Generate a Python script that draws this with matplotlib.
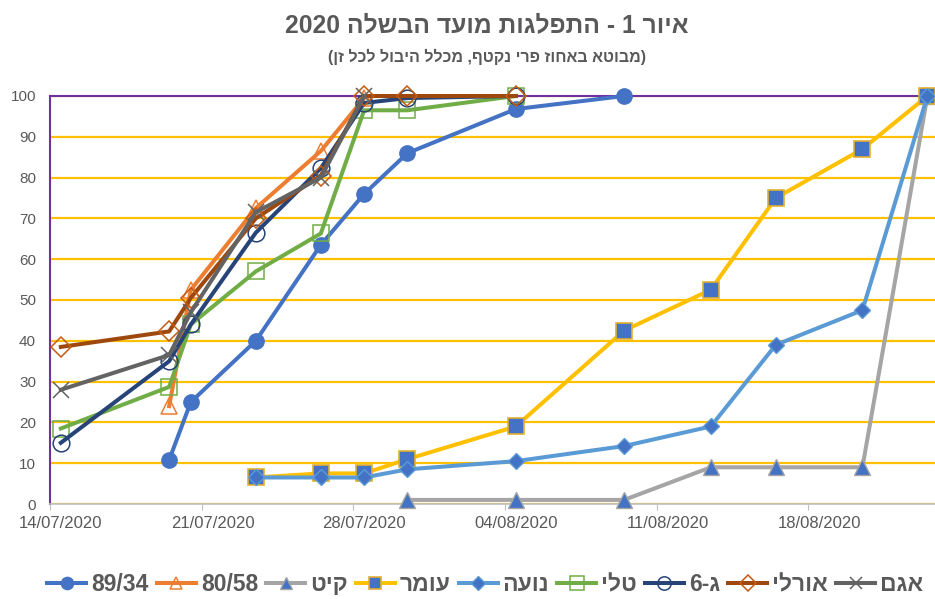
import re
import datetime as dt
import matplotlib
matplotlib.use('Agg')
import matplotlib.pyplot as plt
import matplotlib.dates as mdates

plt.rcParams['font.family'] = ['Liberation Sans', 'DejaVu Sans']


def heb(s):
    # matplotlib draws glyphs left to right with no bidi, so put hebrew in visual order
    if not re.search(r'[\u0590-\u05FF]', s):
        return s
    r = s[::-1]
    r = re.sub(r'[0-9A-Za-z/.]+', lambda m: m.group(0)[::-1], r)
    return r.translate(str.maketrans('()', ')('))


def d(s):
    day, mon = s.split('/')
    return dt.date(2020, int(mon), int(day))


title = 'איור 1 - התפלגות מועד הבשלה 2020'
subtitle = '(מבוטא באחוז פרי נקטף, מכלל היבול לכל זן)'

# series, in excel order (first drawn at the bottom)
s8934_x = ['19/07', '20/07', '23/07', '26/07', '28/07', '30/07', '04/08', '09/08']
s8934_y = [10.8, 25, 40, 63.5, 76, 86, 96.8, 100]

s8058_x = ['19/07', '20/07', '23/07', '26/07', '28/07']
s8058_y = [24, 52.5, 72.5, 86.5, 99.5]

kit_x = ['30/07', '04/08', '09/08', '13/08', '16/08', '20/08', '23/08']
kit_y = [1, 1, 1, 9, 9, 9, 100]

omer_x = ['23/07', '26/07', '28/07', '30/07', '04/08', '09/08', '13/08', '16/08', '20/08', '23/08']
omer_y = [6.5, 7.5, 7.5, 11, 19, 42.5, 52.5, 75, 87, 100]

noa_x = ['23/07', '26/07', '28/07', '30/07', '04/08', '09/08', '13/08', '16/08', '20/08', '23/08']
noa_y = [6.5, 6.5, 6.5, 8.5, 10.5, 14.2, 19, 39, 47.5, 100]

tali_x = ['14/07', '19/07', '20/07', '23/07', '26/07', '28/07', '30/07', '04/08']
tali_y = [18.5, 28.7, 44, 57, 66.3, 96.5, 96.5, 100]

g6_x = ['14/07', '19/07', '20/07', '23/07', '26/07', '28/07', '30/07', '04/08']
g6_y = [15, 35, 44, 66.5, 82.3, 98.3, 99.5, 100]

orly_x = ['14/07', '19/07', '20/07', '23/07', '26/07', '28/07', '30/07', '04/08']
orly_y = [38.5, 42.3, 50.5, 70, 80.5, 100, 100, 100]

agam_x = ['14/07', '19/07', '20/07', '23/07', '26/07', '28/07']
agam_y = [28, 36.5, 47, 71.5, 80, 100]

names = ['89/34', '80/58', 'קיט', 'עומר', 'נועה', 'טלי', 'ג-6', 'אורלי', 'אגם']
xs = [s8934_x, s8058_x, kit_x, omer_x, noa_x, tali_x, g6_x, orly_x, agam_x]
ys = [s8934_y, s8058_y, kit_y, omer_y, noa_y, tali_y, g6_y, orly_y, agam_y]

tick_dates = ['14/07', '21/07', '28/07', '04/08', '11/08', '18/08']

blue = '#4472C4'
styles = [
    dict(color=blue, marker='o', ms=11, mfc=blue, mec=blue, mew=1),
    dict(color='#ED7D31', marker='^', ms=11, mfc='none', mec='#ED7D31', mew=1.1),
    dict(color='#A5A5A5', marker='^', ms=11, mfc=blue, mec='#A5A5A5', mew=1),
    dict(color='#FFC000', marker='s', ms=11, mfc=blue, mec='#E0B030', mew=1.2),
    dict(color='#5B9BD5', marker='D', ms=8.5, mfc=blue, mec='#5B9BD5', mew=1),
    dict(color='#70AD47', marker='s', ms=12, mfc='none', mec='#70AD47', mew=1.1),
    dict(color='#264478', marker='o', ms=12, mfc='none', mec='#264478', mew=1.1),
    dict(color='#9E480E', marker='D', ms=10, mfc='none', mec='#C55A11', mew=1.1),
    dict(color='#636363', marker='x', ms=11, mfc='none', mec='#636363', mew=1.1),
]

fig = plt.figure(figsize=(9.35, 5.99), dpi=100)
ax = fig.add_axes([50 / 935, 95 / 599, 885 / 935, 408 / 599])

half = 0.5  # excel puts each point (and each date label) in the middle of its day
for i, (name, x, y, st) in enumerate(zip(names, xs, ys, styles)):
    xd = [mdates.date2num(d(v)) + half for v in x]
    ax.plot(xd, y, lw=2.9, label=heb(name), zorder=3 + i, clip_on=False, **st)

x0 = mdates.date2num(d('14/07'))
ax.set_xlim(x0, x0 + 40.85)
ax.set_ylim(0, 100)
ax.set_yticks(range(0, 101, 10))

# tick marks at the day boundary, labels at the day centre
ax.set_xticks([mdates.date2num(d(t)) for t in tick_dates])
ax.set_xticklabels([])
ax.set_xticks([mdates.date2num(d(t)) + half for t in tick_dates], minor=True)
ax.set_xticklabels([d(t).strftime('%d/%m/%Y') for t in tick_dates], minor=True)

ax.grid(axis='y', color='#FFC000', lw=1.6, zorder=1)
ax.tick_params(axis='y', length=0, labelsize=11, labelcolor='#595959', pad=10)
ax.tick_params(axis='x', which='major', length=4, color='#BFBFBF')
ax.tick_params(axis='x', which='minor', length=0, labelsize=12, labelcolor='#595959', pad=9)

for side in ['top', 'left']:
    ax.spines[side].set_color('#7030A0')
    ax.spines[side].set_linewidth(1.5)
ax.spines['right'].set_visible(False)
ax.spines['bottom'].set_color('#BFBFBF')
ax.spines['bottom'].set_linewidth(1.2)

fig.text(0.521, 0.958, heb(title), ha='center', va='center', fontsize=17.7,
         fontweight='bold', color='#595959')
fig.text(0.521, 0.905, heb(subtitle), ha='center', va='center', fontsize=11.5,
         fontweight='bold', color='#595959')

fig.legend(loc='center', bbox_to_anchor=(0.519, 0.024), ncol=9, frameon=False,
           handlelength=1.7, columnspacing=0.35, handletextpad=0.22, markerscale=0.8,
           prop={'size': 16.5, 'weight': 'bold'}, labelcolor='#595959')

fig.savefig('out.png', dpi=100)
